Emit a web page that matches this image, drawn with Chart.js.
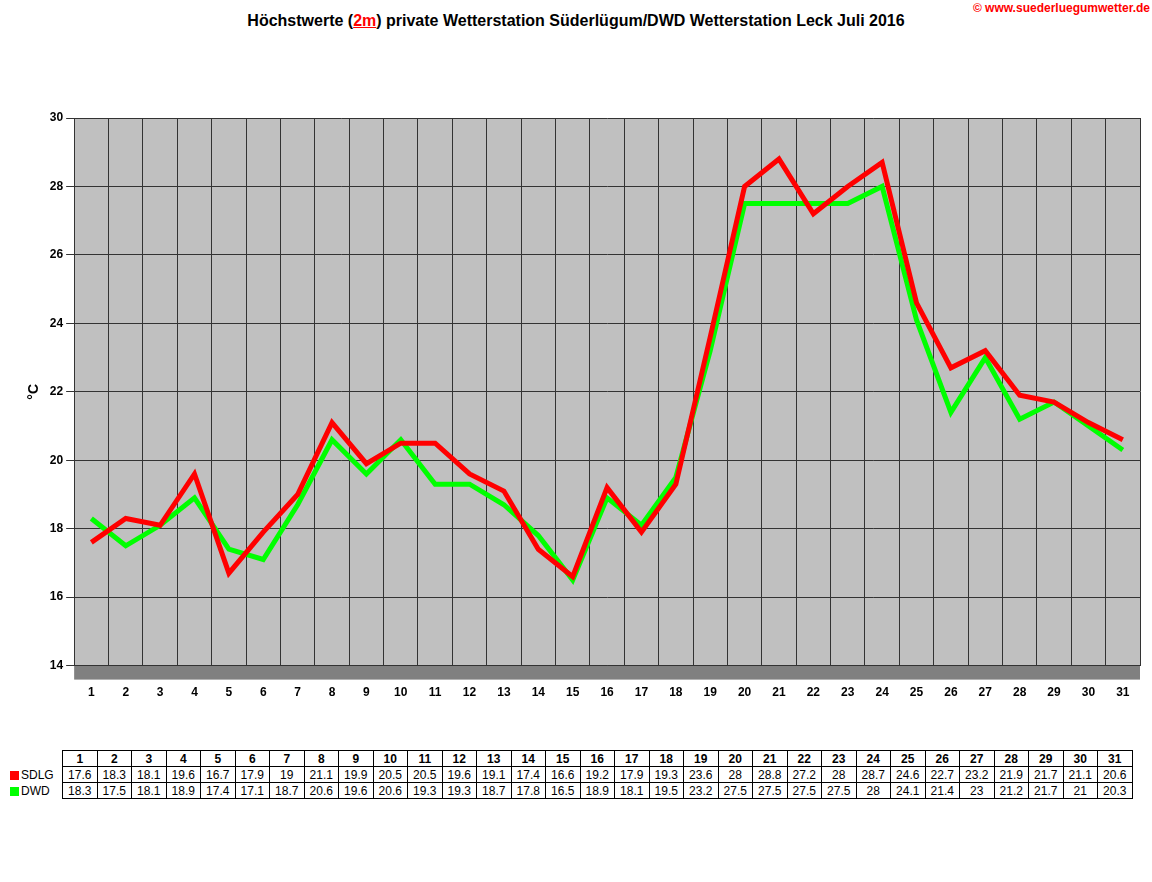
<!DOCTYPE html>
<html><head><meta charset="utf-8">
<script src="https://cdn.jsdelivr.net/npm/chart.js@4/dist/chart.umd.min.js"></script>
<style>
body{margin:0;background:#fff;font-family:"Liberation Sans",Arial,sans-serif;}
#wrap{position:relative;width:1152px;height:882px;}
#title{position:absolute;top:12px;left:0;width:1152px;text-align:center;font-weight:bold;font-size:16px;}
#title u{color:#f00}
#link{position:absolute;top:1px;right:2px;color:#f00;font-size:12px;font-weight:bold;}
#cw{position:absolute;top:80px;left:0;width:1152px;height:640px;}
table{position:absolute;top:750px;left:8px;border-collapse:collapse;font-size:12px;}
td{border:1px solid #000;height:15px;padding:0;text-align:center;width:33.5px;}
td.h{width:54px;text-align:left;border:none;}
tr.hd td{font-weight:bold;}
.sw{display:inline-block;width:9px;height:9px;margin:0 2px 0 2px;vertical-align:-1px;}
</style></head><body>
<div id="wrap">
<div id="title">Höchstwerte (<u>2m</u>) private Wetterstation Süderlügum/DWD Wetterstation Leck Juli 2016</div>
<div id="link">© www.suederluegumwetter.de</div>
<div id="cw"><canvas id="c"></canvas></div>
<table id="t"></table>
</div>
<script>
const days=Array.from({length:31},(_,i)=>String(i+1));
const sdlg=[17.6,18.3,18.1,19.6,16.7,17.9,19,21.1,19.9,20.5,20.5,19.6,19.1,17.4,16.6,19.2,17.9,19.3,23.6,28,28.8,27.2,28,28.7,24.6,22.7,23.2,21.9,21.7,21.1,20.6];
const dwd=[18.3,17.5,18.1,18.9,17.4,17.1,18.7,20.6,19.6,20.6,19.3,19.3,18.7,17.8,16.5,18.9,18.1,19.5,23.2,27.5,27.5,27.5,27.5,28,24.1,21.4,23,21.2,21.7,21,20.3];

const t=document.getElementById('t');
let h='<tr class="hd"><td class="h"></td>'+days.map(d=>'<td>'+d+'</td>').join('')+'</tr>';
h+='<tr><td class="h"><span class="sw" style="background:#f00"></span>SDLG</td>'+sdlg.map(v=>'<td>'+v+'</td>').join('')+'</tr>';
h+='<tr><td class="h"><span class="sw" style="background:#0f0"></span>DWD</td>'+dwd.map(v=>'<td>'+v+'</td>').join('')+'</tr>';
t.innerHTML=h;

const bg={id:'bg',beforeDraw(c){const a=c.chartArea,x=c.ctx;x.save();x.fillStyle='#c0c0c0';x.fillRect(a.left,a.top,a.right-a.left,a.bottom-a.top);x.fillStyle='#808080';x.fillRect(a.left,a.bottom,a.right-a.left,14);x.restore();}};
new Chart(document.getElementById('c'),{
type:'line',
data:{labels:days,datasets:[
{label:'SDLG',data:sdlg,borderColor:'#f00',borderWidth:5,pointRadius:0,tension:0,order:1},
{label:'DWD',data:dwd,borderColor:'#0f0',borderWidth:5,pointRadius:0,tension:0,order:2}]},
options:{responsive:true,maintainAspectRatio:false,animation:false,
layout:{padding:{left:22,right:12,top:38,bottom:0}},
plugins:{legend:{display:false},tooltip:{enabled:false}},
scales:{
x:{offset:true,grid:{color:'#333',offset:true,drawTicks:false},border:{color:'#333'},
ticks:{color:'#000',font:{weight:'bold',size:12},padding:20}},
y:{min:14,max:30,ticks:{stepSize:2,color:'#000',font:{weight:'bold',size:12}},
grid:{color:'#333'},border:{color:'#333'},
title:{display:true,text:'°C',color:'#000',font:{weight:'bold',size:14}}}}},
plugins:[bg]});
</script>
</body></html>
